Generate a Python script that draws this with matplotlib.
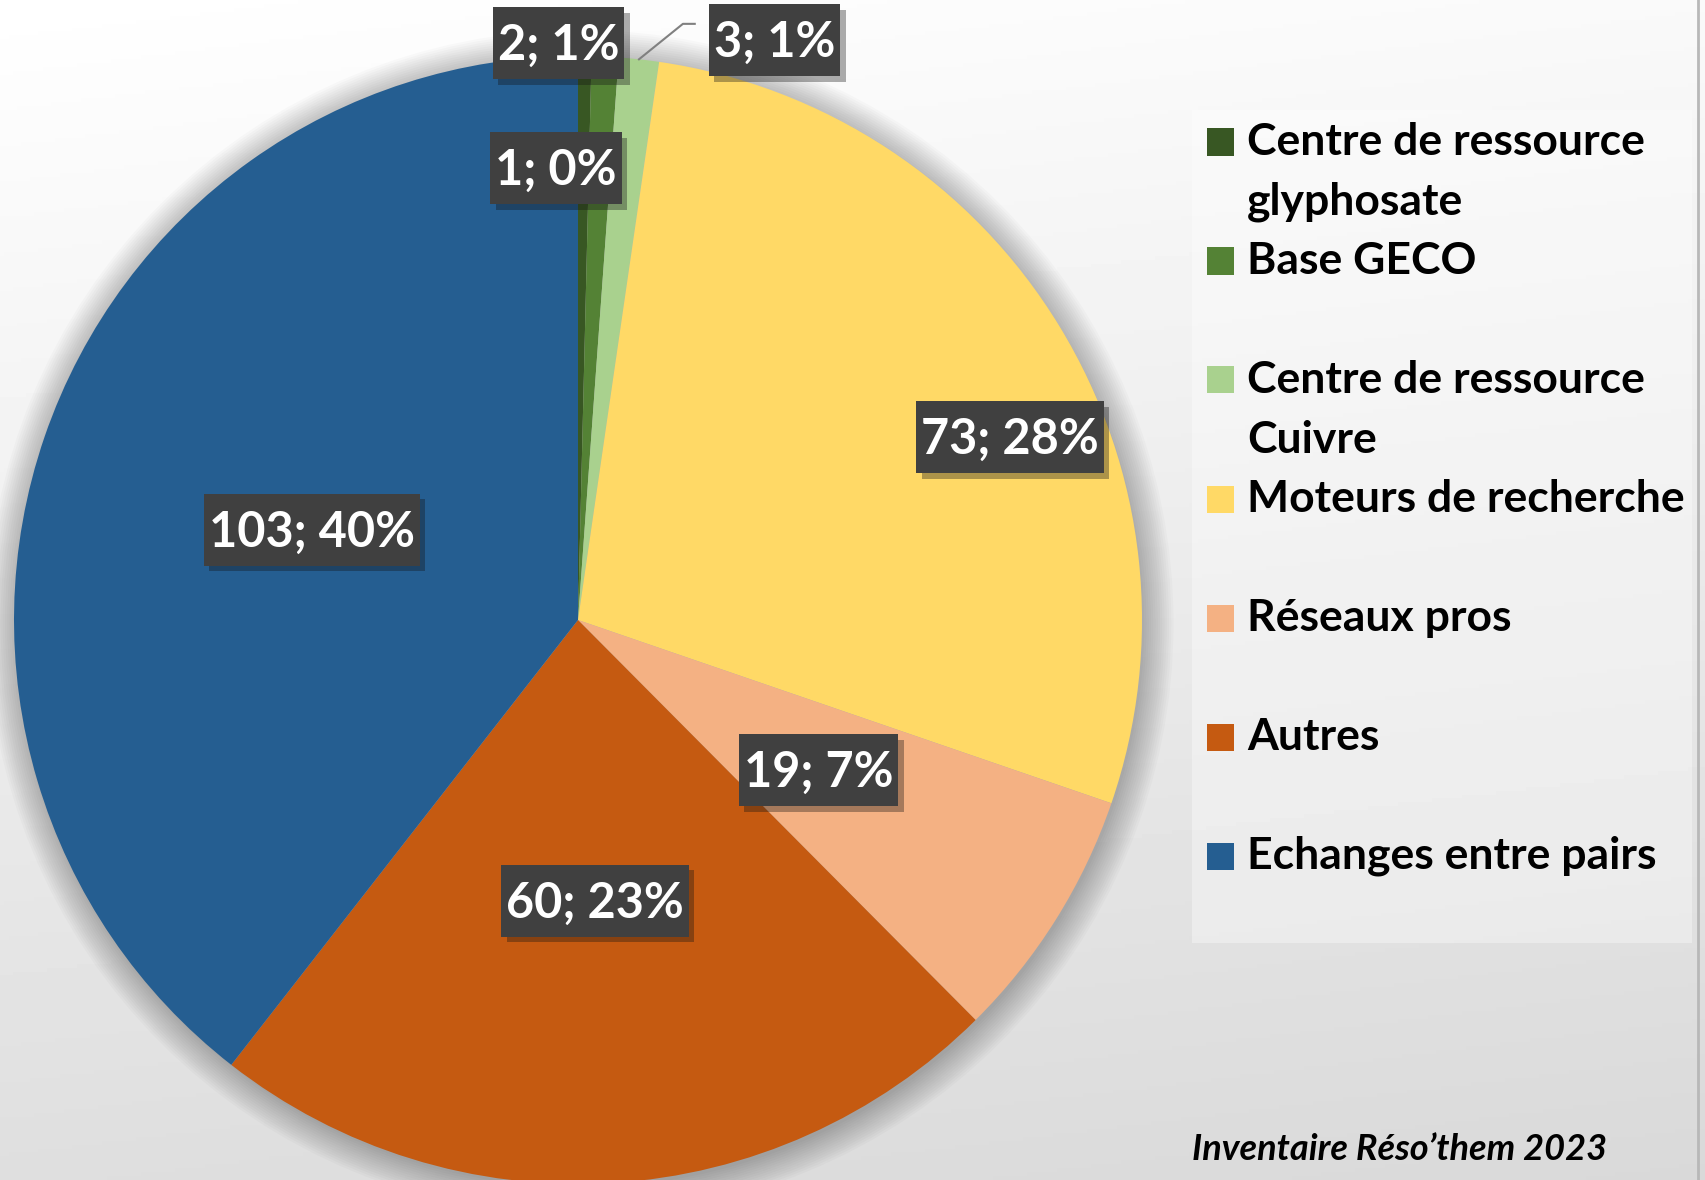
import numpy as np
import matplotlib
matplotlib.use('Agg')
import matplotlib.pyplot as plt
import matplotlib.patheffects as pe
from matplotlib.patches import Rectangle, Circle

# data
categories = ['Centre de ressource\nglyphosate', 'Base GECO', 'Centre de ressource\nCuivre',
              'Moteurs de recherche', 'Réseaux pros', 'Autres', 'Echanges entre pairs']
counts = [1, 2, 3, 73, 19, 60, 103]
percents = [0, 1, 1, 28, 7, 23, 40]
colors = ['#385723', '#548235', '#A9D18E', '#FFD966', '#F4B183', '#C55A11', '#255E91']
source = 'Inventaire Réso\u2019them 2023'

# label box centres (pie data coords, radius = 1)
label_pos = [(-0.039, 0.801), (-0.035, 1.023), (0.348, 1.028), (0.766, 0.324),
             (0.426, -0.266), (0.030, -0.498), (-0.472, 0.160)]

W, H = 1705, 1180
fig = plt.figure(figsize=(W / 100, H / 100), dpi=100)

# background gradient + legend panel
bg = fig.add_axes([0, 0, 1, 1], zorder=0)
yy, xx = np.mgrid[0:1:300j, 0:1:400j]
shade = 1.0 - 0.15 * (0.85 * yy + 0.15 * xx)
bg.imshow(shade, cmap='gray', vmin=0, vmax=1, aspect='auto', extent=[0, 1, 0, 1], origin='upper')
bg.set_xlim(0, 1)
bg.set_ylim(0, 1)
bg.axis('off')

def fx(px):
    return px / W

def fy(py):
    return 1 - py / H

bg.add_patch(Rectangle((fx(1192), fy(943)), fx(1692) - fx(1192), fy(110) - fy(943),
                       fc='white', alpha=0.35, lw=0))
bg.plot([fx(1698), fx(1698)], [0, 1], color='#b8b8b8', lw=2)

for i, (lab, c) in enumerate(zip(categories, colors)):
    yc = 142 + 119 * i
    bg.add_patch(Rectangle((fx(1207), fy(yc + 13.5)), fx(27), 27 / H, fc=c, lw=0))
    for j, line in enumerate(lab.split('\n')):
        bg.text(fx(1247), fy(yc + 13 + 60 * j), line, ha='left', va='baseline',
                fontsize=32, fontweight='bold', family='Lato', color='black')

bg.text(fx(1192), fy(1160), source, ha='left', va='baseline', fontsize=26,
        fontweight='bold', fontstyle='italic', family='Lato', color='black')

# pie
cx, cy, r = 578, 620, 564
span = 1.1
ax = fig.add_axes([(cx - r * span) / W, (H - cy - r * span) / H, 2 * r * span / W, 2 * r * span / H], zorder=2)

for k in range(14):
    ax.add_patch(Circle((0.004, -0.006), 1 + 0.004 * k, color='black', alpha=0.018, lw=0, zorder=0))

wedges, _ = ax.pie(counts, colors=colors, startangle=90, counterclock=False, radius=1,
                   wedgeprops=dict(lw=0))
ax.set_xlim(-span, span)
ax.set_ylim(-span, span)
ax.axis('off')

texts = []
for v, p, (x, y) in zip(counts, percents, label_pos):
    t = ax.text(x, y - 0.004, f'{v}; {p}%', ha='center', va='center', color='white', fontsize=35,
                fontweight='bold', family='Lato', zorder=6)
    texts.append(t)

# dark label boxes sized from the text width
fig.canvas.draw()
rend = fig.canvas.get_renderer()
for t, (x, y) in zip(texts, label_pos):
    w_px = t.get_window_extent(rend).width + 10
    bw, bh = w_px / r, 72 / r
    box = Rectangle((x - bw / 2, y - bh / 2), bw, bh, fc='#404040', lw=0, zorder=5)
    box.set_path_effects([pe.SimplePatchShadow(offset=(4, -4), alpha=0.35), pe.Normal()])
    ax.add_patch(box)

# leader line for the small "Cuivre" slice
total = sum(counts)
cum = sum(counts[:2]) + counts[2] / 2
th = np.deg2rad(90 - 360 * cum / total)
ax.plot([np.cos(th), 0.186, 0.207], [np.sin(th), 1.057, 1.057], color='#808080', lw=1.5, zorder=4)

fig.savefig('out.png', dpi=100)
